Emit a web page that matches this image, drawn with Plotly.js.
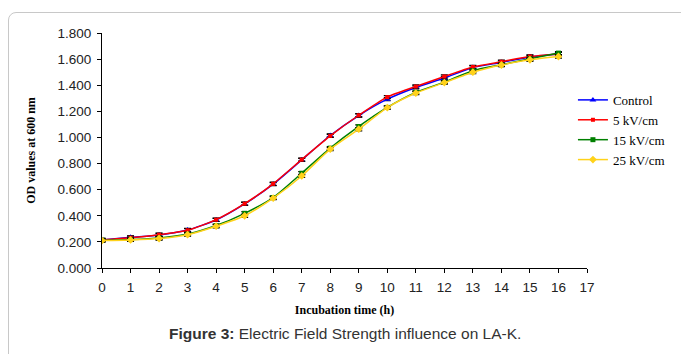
<!DOCTYPE html>
<html>
<head>
<meta charset="utf-8">
<script src="https://cdn.plot.ly/plotly-3.0.1.min.js"></script>
<style>
html,body{margin:0;padding:0;background:#fff;}
#wrap{position:relative;width:681px;height:354px;overflow:hidden;}
#frame{position:absolute;left:8px;top:12px;width:690px;height:370px;border:1px solid #c8c8c8;border-radius:8px;box-sizing:border-box;pointer-events:none;}
#chart{position:absolute;left:0;top:0;width:681px;height:354px;}
</style>
</head>
<body>
<div id="wrap">
<div id="chart"></div>
<div id="frame"></div>
</div>
<script>
const hours = [0,1,2,3,4,5,6,7,8,9,10,11,12,13,14,15,16];
const control = [0.215,0.235,0.253,0.291,0.368,0.491,0.642,0.828,1.015,1.168,1.293,1.383,1.455,1.536,1.574,1.616,1.639];
const kv5     = [0.215,0.232,0.255,0.289,0.370,0.493,0.645,0.830,1.012,1.170,1.309,1.390,1.467,1.540,1.580,1.620,1.640];
const kv15    = [0.212,0.218,0.230,0.260,0.325,0.419,0.540,0.726,0.918,1.084,1.230,1.345,1.424,1.511,1.557,1.603,1.646];
const kv25    = [0.210,0.215,0.226,0.255,0.320,0.400,0.535,0.705,0.910,1.063,1.228,1.340,1.420,1.500,1.555,1.595,1.620];
const errs    = [0.012,0.012,0.012,0.012,0.012,0.012,0.012,0.012,0.012,0.012,0.012,0.012,0.012,0.012,0.012,0.012,0.012];
const names = ["Control","5 kV/cm","15 kV/cm","25 kV/cm"];
const colors = ["#0000ff","#ff0000","#008000","#ffd21a"];
const symbols = ["triangle-up","square","square","diamond"];
const sizes = [6,4,5,6];
const series = [control,kv5,kv15,kv25];
const xTicks = [0,1,2,3,4,5,6,7,8,9,10,11,12,13,14,15,16,17];
const yTicks = [0,0.2,0.4,0.6,0.8,1.0,1.2,1.4,1.6,1.8];

const traces = series.map((ys,i)=>({
  x: hours, y: ys, name: names[i], type:'scatter', mode:'lines+markers',
  line:{color:colors[i], width:1.5, shape:'spline', smoothing:0.6},
  marker:{color:colors[i], symbol:symbols[i], size:sizes[i]},
  error_y:{type:'data', array:errs, visible:true, color:'#000', thickness:1.2, width:3.5}
}));

const layout = {
  width:681, height:354,
  margin:{l:102, r:93, t:33, b:86},
  paper_bgcolor:'rgba(0,0,0,0)', plot_bgcolor:'rgba(0,0,0,0)',
  showlegend:true,
  legend:{x:0.969, y:0.779, xanchor:'left', yanchor:'top', font:{family:'Liberation Serif', size:13, color:'#000'},
          bgcolor:'rgba(0,0,0,0)', tracegroupgap:0, itemwidth:30},
  xaxis:{range:[0,17], tickvals:xTicks, ticktext:xTicks.map(String), showgrid:false, zeroline:false,
         showline:true, linecolor:'#000', linewidth:1, ticks:'outside', ticklen:4, tickcolor:'#000',
         ticklabelstandoff:3,
         tickfont:{family:'Liberation Sans, Arial', size:13.5, color:'#222'},
         title:{text:'<b>Incubation time (h)</b>', font:{family:'Liberation Serif', size:12, color:'#000'}, standoff:11}},
  yaxis:{range:[0,1.8], tickvals:yTicks, ticktext:yTicks.map(v=>v.toFixed(3)), showgrid:false, zeroline:false,
         showline:true, linecolor:'#000', linewidth:1, ticks:'outside', ticklen:4, tickcolor:'#000',
         ticklabelstandoff:3,
         tickfont:{family:'Liberation Sans, Arial', size:13.5, color:'#222'},
         title:{text:'<b>OD values at 600 nm</b>', font:{family:'Liberation Serif', size:12, color:'#000'}, standoff:19}},
  annotations:[{
    xref:'paper', yref:'paper', x:0.5, y:-0.234, xanchor:'center', yanchor:'top', showarrow:false,
    text:'<b>Figure 3:</b> Electric Field Strength influence on LA-K.',
    font:{family:'Liberation Sans, Arial', size:15.5, color:'#333'}
  }]
};
Plotly.newPlot('chart', traces, layout, {displayModeBar:false, staticPlot:true});
</script>
</body>
</html>
